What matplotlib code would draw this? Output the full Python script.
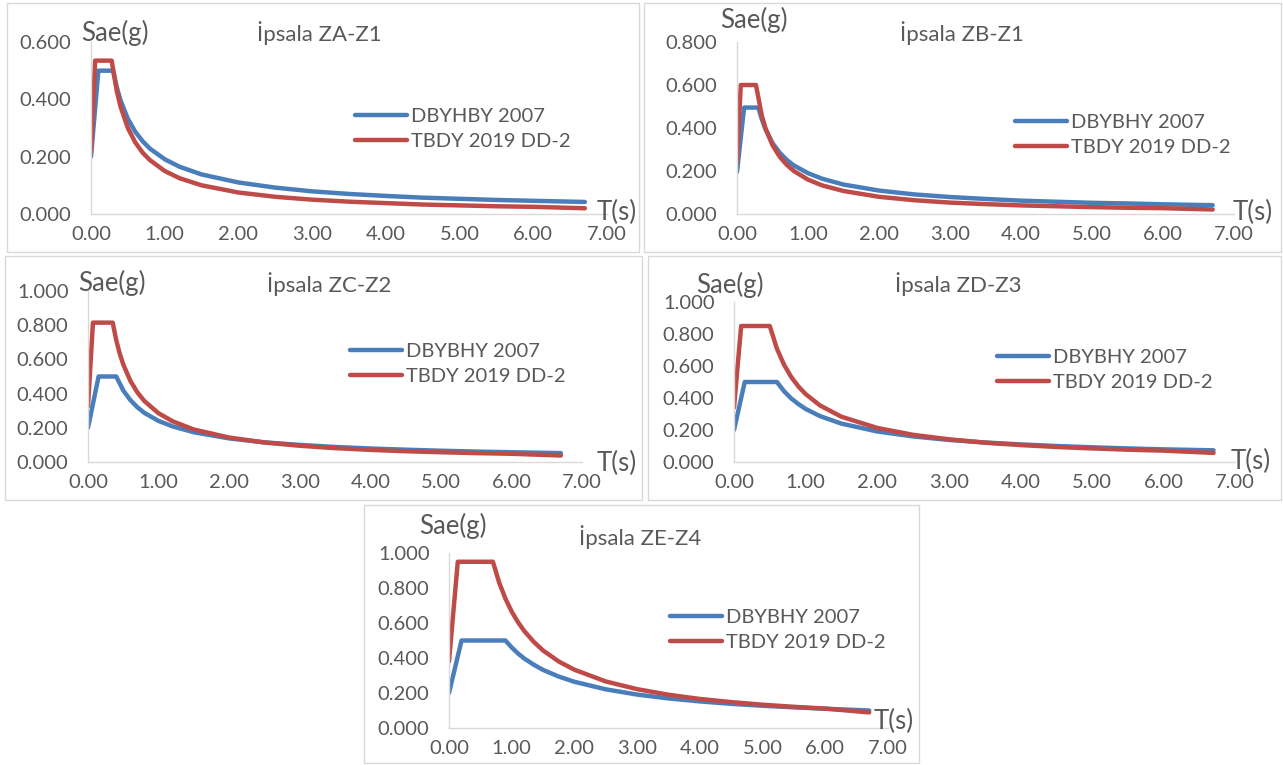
import numpy as np
import matplotlib.pyplot as plt
from matplotlib.patches import Rectangle

plt.rcParams['font.family'] = ['Lato', 'DejaVu Sans']

# --- data ---
# İpsala ZA-Z1
t_za_old = [0.0, 0.10, 0.30, 0.35, 0.40, 0.50, 0.60, 0.70, 0.80, 1.00, 1.20, 1.50, 2.00, 2.50, 3.00, 3.50, 4.00, 4.50, 5.00, 5.50, 6.00, 6.70]
s_za_old = [0.200, 0.500, 0.500, 0.442, 0.397, 0.332, 0.287, 0.254, 0.228, 0.191, 0.165, 0.138, 0.110, 0.092, 0.079, 0.070, 0.063, 0.057, 0.053, 0.049, 0.046, 0.042]
t_za_new = [0.0, 0.056, 0.28, 0.35, 0.40, 0.50, 0.60, 0.70, 0.80, 1.00, 1.20, 1.50, 2.00, 2.50, 3.00, 3.50, 4.00, 4.50, 5.00, 5.50, 6.00, 6.70]
s_za_new = [0.214, 0.535, 0.535, 0.429, 0.375, 0.300, 0.250, 0.214, 0.188, 0.150, 0.125, 0.100, 0.075, 0.060, 0.050, 0.043, 0.038, 0.033, 0.030, 0.027, 0.025, 0.020]

# İpsala ZB-Z1
t_zb_old = [0.0, 0.10, 0.30, 0.35, 0.40, 0.50, 0.60, 0.70, 0.80, 1.00, 1.20, 1.50, 2.00, 2.50, 3.00, 3.50, 4.00, 4.50, 5.00, 5.50, 6.00, 6.70]
s_zb_old = [0.195, 0.495, 0.495, 0.440, 0.395, 0.330, 0.285, 0.252, 0.226, 0.190, 0.164, 0.137, 0.109, 0.091, 0.079, 0.070, 0.062, 0.057, 0.052, 0.049, 0.045, 0.041]
t_zb_new = [0.0, 0.053, 0.267, 0.35, 0.40, 0.50, 0.60, 0.70, 0.80, 1.00, 1.20, 1.50, 2.00, 2.50, 3.00, 3.50, 4.00, 4.50, 5.00, 5.50, 6.00, 6.70]
s_zb_new = [0.240, 0.600, 0.600, 0.457, 0.400, 0.320, 0.267, 0.229, 0.200, 0.160, 0.133, 0.107, 0.080, 0.064, 0.053, 0.046, 0.040, 0.036, 0.032, 0.029, 0.027, 0.021]

# İpsala ZC-Z2
t_zc_old = [0.0, 0.15, 0.40, 0.50, 0.60, 0.70, 0.80, 1.00, 1.20, 1.50, 2.00, 2.50, 3.00, 3.50, 4.00, 4.50, 5.00, 5.50, 6.00, 6.70]
s_zc_old = [0.200, 0.500, 0.500, 0.418, 0.362, 0.320, 0.287, 0.240, 0.208, 0.174, 0.138, 0.115, 0.100, 0.088, 0.079, 0.072, 0.066, 0.061, 0.057, 0.052]
t_zc_new = [0.0, 0.07, 0.35, 0.40, 0.45, 0.50, 0.60, 0.70, 0.80, 1.00, 1.20, 1.50, 2.00, 2.50, 3.00, 3.50, 4.00, 4.50, 5.00, 5.50, 6.00, 6.70]
s_zc_new = [0.326, 0.815, 0.815, 0.713, 0.633, 0.570, 0.475, 0.407, 0.356, 0.285, 0.238, 0.190, 0.143, 0.114, 0.095, 0.081, 0.071, 0.063, 0.057, 0.052, 0.048, 0.038]

# İpsala ZD-Z3
t_zd_old = [0.0, 0.15, 0.60, 0.70, 0.80, 0.90, 1.00, 1.20, 1.50, 2.00, 2.50, 3.00, 3.50, 4.00, 4.50, 5.00, 5.50, 6.00, 6.70]
s_zd_old = [0.200, 0.500, 0.500, 0.442, 0.397, 0.362, 0.332, 0.287, 0.240, 0.191, 0.160, 0.138, 0.122, 0.110, 0.100, 0.092, 0.085, 0.079, 0.073]
t_zd_new = [0.0, 0.10, 0.50, 0.60, 0.70, 0.80, 0.90, 1.00, 1.20, 1.50, 2.00, 2.50, 3.00, 3.50, 4.00, 4.50, 5.00, 5.50, 6.00, 6.70]
s_zd_new = [0.340, 0.850, 0.850, 0.708, 0.607, 0.531, 0.472, 0.425, 0.354, 0.283, 0.213, 0.170, 0.142, 0.121, 0.106, 0.094, 0.085, 0.077, 0.071, 0.057]

# İpsala ZE-Z4
t_ze_old = [0.0, 0.20, 0.90, 1.00, 1.10, 1.20, 1.35, 1.50, 1.75, 2.00, 2.50, 3.00, 3.50, 4.00, 4.50, 5.00, 5.50, 6.00, 6.70]
s_ze_old = [0.200, 0.500, 0.500, 0.460, 0.426, 0.397, 0.362, 0.332, 0.294, 0.264, 0.221, 0.191, 0.169, 0.152, 0.138, 0.127, 0.118, 0.110, 0.100]
t_ze_new = [0.0, 0.14, 0.70, 0.80, 0.90, 1.00, 1.10, 1.20, 1.35, 1.50, 1.75, 2.00, 2.50, 3.00, 3.50, 4.00, 4.50, 5.00, 5.50, 6.00, 6.70]
s_ze_new = [0.380, 0.950, 0.950, 0.831, 0.739, 0.665, 0.605, 0.554, 0.493, 0.443, 0.380, 0.333, 0.266, 0.222, 0.190, 0.166, 0.148, 0.133, 0.121, 0.111, 0.089]

titles = ['İpsala ZA-Z1', 'İpsala ZB-Z1', 'İpsala ZC-Z2', 'İpsala ZD-Z3', 'İpsala ZE-Z4']
old_labels = ['DBYHBY 2007', 'DBYBHY 2007', 'DBYBHY 2007', 'DBYBHY 2007', 'DBYBHY 2007']
new_label = 'TBDY 2019 DD-2'
y_max = [0.6, 0.8, 1.0, 1.0, 1.0]
x_ticks = [0, 1, 2, 3, 4, 5, 6, 7]

old_t = [t_za_old, t_zb_old, t_zc_old, t_zd_old, t_ze_old]
old_s = [s_za_old, s_zb_old, s_zc_old, s_zd_old, s_ze_old]
new_t = [t_za_new, t_zb_new, t_zc_new, t_zd_new, t_ze_new]
new_s = [s_za_new, s_zb_new, s_zc_new, s_zd_new, s_ze_new]

BLUE = '#4a7ebb'
RED = '#be4b48'
GREY = '#595959'
FS = 14.5
FS_TITLE = 16
FS_AX = 18.5

W, H = 1283, 765
fig = plt.figure(figsize=(W / 100, H / 100), dpi=100)


def fx(px):
    return px / W


def fy(py):
    return 1 - py / H


# panel frames (pixel boxes: left, top, right, bottom)
frames = [(7, 3, 639, 252), (644, 3, 1281, 252), (5, 256, 642, 500),
          (648, 256, 1281, 500), (364, 505, 919, 763)]
# plot areas: x at T=0, x at T=7, y at Sae=0, y at top tick
areas = [(91, 607, 214, 42), (737, 1234, 214, 42), (88, 582, 462, 291),
         (734, 1235, 462, 302), (449, 888, 728, 553)]
title_xy = [(319, 33), (962, 33), (329, 284), (958, 284), (640, 537)]
sae_xy = [(115, 33), (754, 20), (112, 283), (730, 285), (453, 526)]
ts_xy = [(617, 212), (1253, 212), (617, 463), (1251, 461), (894, 721)]
leg_xy = [(355, 129), (1015, 135), (350, 364), (997, 370), (670, 630)]

for i in range(5):
    l, t, r, b = frames[i]
    fig.add_artist(Rectangle((fx(l), fy(b)), fx(r) - fx(l), fy(t) - fy(b),
                             transform=fig.transFigure, fill=False,
                             edgecolor='#d9d9d9', linewidth=1.0))

    x0, x7, y0, yt = areas[i]
    ax = fig.add_axes([fx(x0), fy(y0), fx(x7) - fx(x0), fy(yt) - fy(y0)])
    ax.patch.set_alpha(0)
    ax.plot(old_t[i], old_s[i], color=BLUE, lw=3.2, label=old_labels[i],
            solid_capstyle='round', solid_joinstyle='round')
    ax.plot(new_t[i], new_s[i], color=RED, lw=3.2, label=new_label,
            solid_capstyle='round', solid_joinstyle='round')
    ax.set_xlim(0, 7)
    ax.set_ylim(0, y_max[i])
    ax.set_xticks(x_ticks)
    ax.set_xticklabels(['%.2f' % v for v in x_ticks])
    yt_vals = np.arange(0, y_max[i] + 0.001, 0.2)
    ax.set_yticks(yt_vals)
    ax.set_yticklabels(['%.3f' % v for v in yt_vals])
    for side in ['top', 'right']:
        ax.spines[side].set_visible(False)
    for side in ['left', 'bottom']:
        ax.spines[side].set_color('#d9d9d9')
        ax.spines[side].set_linewidth(1.0)
    ax.tick_params(axis='both', length=0, labelsize=FS, labelcolor=GREY)
    ax.tick_params(axis='y', pad=14)
    ax.tick_params(axis='x', pad=9)

    lx, ly = leg_xy[i]
    ax.legend(loc='center left', bbox_to_anchor=(fx(lx), fy(ly)),
              bbox_transform=fig.transFigure, frameon=False, fontsize=FS,
              labelcolor=GREY, handlelength=2.6, handletextpad=0.2,
              labelspacing=0.4, borderpad=0, borderaxespad=0)

    fig.text(fx(title_xy[i][0]), fy(title_xy[i][1]), titles[i], fontsize=FS_TITLE,
             color=GREY, ha='center', va='center')
    fig.text(fx(sae_xy[i][0]), fy(sae_xy[i][1]), 'Sae(g)', fontsize=FS_AX,
             color=GREY, ha='center', va='center')
    fig.text(fx(ts_xy[i][0]), fy(ts_xy[i][1]), 'T(s)', fontsize=FS_AX,
             color=GREY, ha='center', va='center')

fig.savefig('out.png', dpi=100)
